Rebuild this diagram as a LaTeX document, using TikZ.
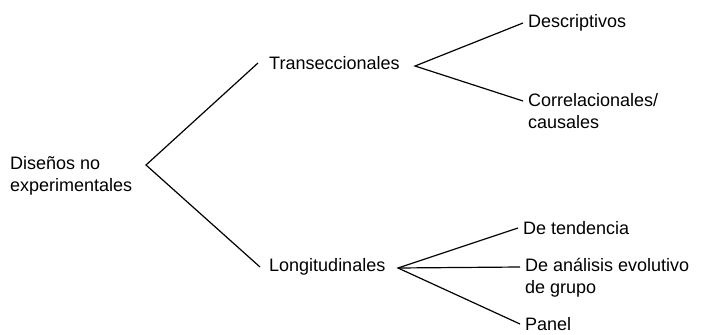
\documentclass[tikz,border=0pt]{standalone}
\usepackage{fontspec}
\setmainfont{Liberation Sans}
\begin{document}
\begin{tikzpicture}[x=1pt,y=-1pt,
  lbl/.style={inner sep=0pt, font=\fontsize{18}{22}\selectfont, align=left},
  leaf/.style={lbl, inner xsep=5pt},
  branch/.style={line width=1.2pt, black}]
\useasboundingbox (0,0) rectangle (705,335);
% root
\node[lbl, anchor=west] (root) at (10,176) {Diseños no\\experimentales};
\coordinate (rv) at (146,165);
% level 1
\node[lbl, anchor=west] (tr) at (269,63) {Transeccionales};
\node[lbl, anchor=west] (lo) at (269,267) {Longitudinales};
\coordinate (tv) at (415,66);
\coordinate (lv) at (398,268);
% level 2
\node[leaf, anchor=west] (desc) at (523,23) {Descriptivos};
\node[leaf, anchor=north west] (corr) at (523,93) {Correlacionales/\\causales};
\node[leaf, anchor=west] (tend) at (518,228) {De tendencia};
\node[leaf, anchor=north west] (anal) at (520,258) {De análisis evolutivo\\de grupo};
\node[leaf, anchor=west] (pan) at (520,324) {Panel};
% connectors
\draw[branch] ([xshift=-11pt]tr.west) -- (rv) -- ([xshift=-9pt]lo.west);
\draw[branch] (desc.west) -- (tv) -- ([yshift=-8pt]corr.north west);
\draw[branch] (tend.west) -- (lv) -- (pan.west);
\draw[branch] (lv) -- ([yshift=-9pt]anal.north west);
\end{tikzpicture}
\end{document}
